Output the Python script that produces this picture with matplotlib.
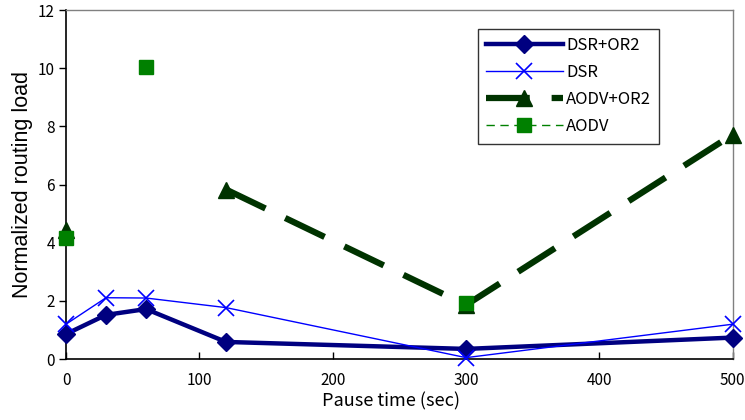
import numpy as np
import matplotlib
matplotlib.use("Agg")
import matplotlib.pyplot as plt

# Pause times (sec) and normalized routing load per protocol
pause_time = [0, 30, 60, 120, 300, 500]
dsr_or2 = [0.86, 1.52, 1.72, 0.59, 0.35, 0.74]
dsr = [1.20, 2.11, 2.10, 1.77, 0.05, 1.20]
aodv_or2 = [4.45, np.nan, np.nan, 5.83, 1.86, 7.72]
aodv = [4.17, np.nan, 10.03, np.nan, 1.93, np.nan]

x_ticks = [0, 100, 200, 300, 400, 500]
y_ticks = [0, 2, 4, 6, 8, 10, 12]

tick_font = ["Noto Sans CJK JP", "DejaVu Sans"]

fig = plt.figure(figsize=(7.45, 4.2), dpi=100)
ax = fig.add_axes([0.0886, 0.145, 0.895, 0.831])

ax.plot(pause_time, dsr_or2, color="#000080", lw=3.2, marker="D", ms=9.5,
        label="DSR+OR2", zorder=4, clip_on=False)
ax.plot(pause_time, dsr, color="#0000FF", lw=1.0, marker="x", ms=11, mew=1.2,
        label="DSR", zorder=5, clip_on=False)
ax.plot(pause_time, aodv_or2, color="#003300", lw=4.5, marker="^", ms=11,
        dashes=(7, 3.5), label="AODV+OR2", zorder=3, clip_on=False)
ax.plot(pause_time, aodv, color="#008000", lw=1.0, marker="s", ms=9.5,
        dashes=(6, 4), label="AODV", zorder=3, clip_on=False)

ax.set_xlim(0, 500)
ax.set_ylim(0, 12)
ax.set_xticks(x_ticks)
ax.set_yticks(y_ticks)
ax.set_xticklabels([str(v) for v in x_ticks], family=tick_font, fontsize=11)
ax.set_yticklabels([str(v) for v in y_ticks], family=tick_font, fontsize=11)
ax.tick_params(axis="x", direction="in", length=5, width=1, pad=9)
ax.tick_params(axis="y", direction="out", length=5, width=1, pad=3)

for side in ("left", "bottom"):
    ax.spines[side].set_color("black")
    ax.spines[side].set_linewidth(1.2)
for side in ("top", "right"):
    ax.spines[side].set_color("#808080")
    ax.spines[side].set_linewidth(1.0)

ax.set_xlabel("Pause time (sec)", family=tick_font, fontsize=13, labelpad=0)
ax.xaxis.set_label_coords(0.487, -0.095)
ax.set_ylabel("Normalized routing load", family="Liberation Sans", fontsize=15.5,
              labelpad=4)
ax.yaxis.set_label_coords(-0.05, 0.5)

leg = ax.legend(loc="upper left", bbox_to_anchor=(0.605, 0.97),
                prop={"family": tick_font, "size": 12}, frameon=True,
                fancybox=False, edgecolor="black", handlelength=4.6,
                handletextpad=0.2, borderpad=0.5, labelspacing=0.6)
leg.get_frame().set_linewidth(1.0)

fig.savefig("out.png", dpi=100)
